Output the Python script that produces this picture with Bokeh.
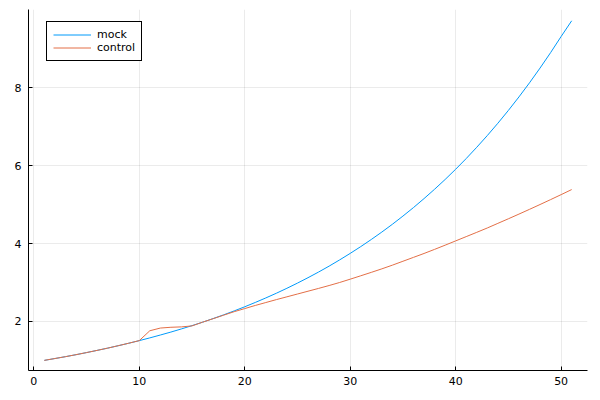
from bokeh.plotting import figure
from bokeh.models import Range1d, Legend, LegendItem, FixedTicker
from bokeh.embed import file_html
from bokeh.resources import INLINE

x = list(range(1, 52))
mock = [1.000, 1.047, 1.095, 1.146, 1.200, 1.256, 1.314, 1.376, 1.440, 1.507,
        1.577, 1.651, 1.727, 1.808, 1.892, 1.980, 2.073, 2.169, 2.270, 2.376,
        2.487, 2.603, 2.724, 2.851, 2.984, 3.123, 3.268, 3.420, 3.580, 3.747,
        3.921, 4.104, 4.295, 4.495, 4.705, 4.924, 5.154, 5.394, 5.645, 5.908,
        6.183, 6.472, 6.773, 7.089, 7.419, 7.765, 8.127, 8.506, 8.902, 9.317,
        9.720]
control = [1.000, 1.047, 1.095, 1.146, 1.200, 1.256, 1.314, 1.376, 1.440, 1.507,
           1.760, 1.830, 1.850, 1.860, 1.885, 1.980, 2.070, 2.160, 2.250, 2.330,
           2.410, 2.485, 2.560, 2.632, 2.704, 2.776, 2.848, 2.922, 3.000, 3.085,
           3.172, 3.260, 3.350, 3.445, 3.545, 3.645, 3.745, 3.850, 3.958, 4.068,
           4.178, 4.288, 4.400, 4.518, 4.636, 4.756, 4.878, 5.002, 5.128, 5.256,
           5.386]
x_ticks = [0, 10, 20, 30, 40, 50]
y_ticks = [2, 4, 6, 8]
series_names = ["mock", "control"]
colors = ["#009AFA", "#E36F47"]

p = figure(output_backend="svg", toolbar_location=None,
           frame_width=559, frame_height=361,
           min_border_left=28, min_border_right=12, min_border_top=9, min_border_bottom=29,
           x_range=Range1d(-0.5, 52.5), y_range=Range1d(0.74, 10.01))
p.outline_line_color = None
p.background_fill_color = "white"
p.border_fill_color = "white"

r1 = p.line(x, mock, line_color=colors[0], line_width=1)
r2 = p.line(x, control, line_color=colors[1], line_width=1)

for ax, ticks in ((p.xaxis, x_ticks), (p.yaxis, y_ticks)):
    ax.ticker = FixedTicker(ticks=ticks)
    ax.axis_line_color = "black"
    ax.axis_line_width = 1
    ax.major_tick_line_color = "black"
    ax.major_tick_in = 4
    ax.major_tick_out = 0
    ax.minor_tick_line_color = None
    ax.major_label_text_font = "DejaVu Sans"
    ax.major_label_text_font_size = "11px"
    ax.major_label_text_color = "black"
p.yaxis.major_label_standoff = 7
p.xaxis.major_label_standoff = 6

p.xgrid.ticker = FixedTicker(ticks=x_ticks)
p.ygrid.ticker = FixedTicker(ticks=y_ticks)
p.grid.grid_line_color = "black"
p.grid.grid_line_alpha = 0.08
p.grid.grid_line_width = 1

legend = Legend(items=[LegendItem(label=series_names[0], renderers=[r1]),
                       LegendItem(label=series_names[1], renderers=[r2])],
                location=(18, 309), padding=6, spacing=0, margin=0,
                label_height=13, glyph_height=13, glyph_width=38, label_standoff=6,
                label_text_font="DejaVu Sans", label_text_font_size="11px",
                label_text_color="black",
                border_line_color="black", border_line_width=1, border_line_alpha=1,
                background_fill_color="white", background_fill_alpha=1)
p.add_layout(legend)

open("out.html", "w").write(file_html(p, INLINE))
